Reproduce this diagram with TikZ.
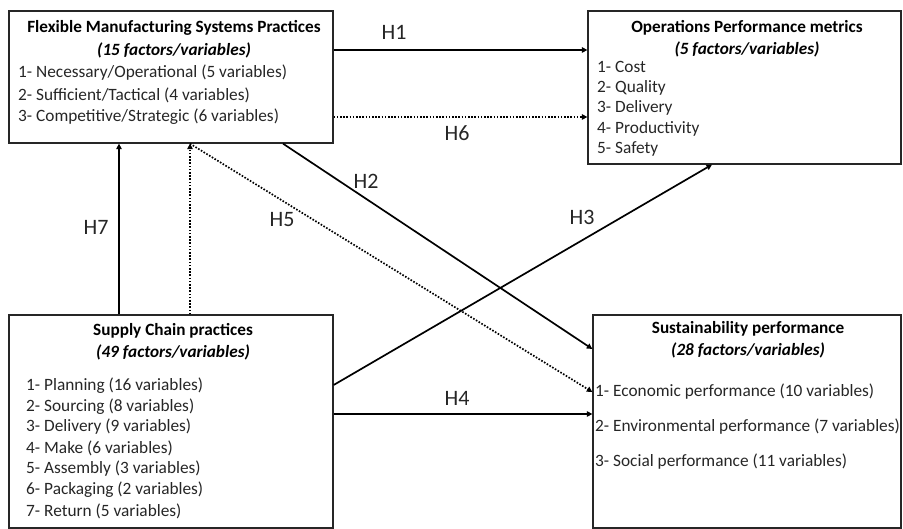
\documentclass[tikz,border=0pt]{standalone}
\usepackage{fontspec}
\setmainfont{Carlito}
\usetikzlibrary{arrows.meta}
\definecolor{txt}{HTML}{262626}
\tikzset{
  box/.style={draw=black!85, line width=1.3pt, rectangle, inner sep=0pt},
  ttl/.style={font=\fontsize{17.2}{20}\selectfont\bfseries, text=black, inner sep=0pt},
  sub/.style={font=\fontsize{17.2}{20}\selectfont\bfseries\itshape, text=black, inner sep=0pt},
  itm/.style={font=\fontsize{17.3}{20}\selectfont, text=txt, anchor=west, inner sep=0pt},
  hlab/.style={font=\fontsize{22}{24}\selectfont, text=txt, inner sep=0pt},
  arr/.style={line width=1.7pt, -{Triangle[length=5.5pt,width=5.5pt]}},
  darr/.style={line width=1.7pt, dash pattern=on 1.6pt off 1.6pt, -{Triangle[length=5.5pt,width=5.5pt]}}
}
\begin{document}
\begin{tikzpicture}[x=1pt,y=-1pt]
\useasboundingbox (0,0) rectangle (903,529);
% boxes
\node[box, minimum width=324pt, minimum height=132pt] (fms) at (171,77) {};
\node[box, minimum width=313pt, minimum height=153pt] (ops) at (744.5,87.5) {};
\node[box, minimum width=324pt, minimum height=213pt] (sc) at (171,421.5) {};
\node[box, minimum width=308pt, minimum height=213pt] (sus) at (747,421.5) {};
% FMS text
\node[ttl] (fmst) at (174,28) {Flexible Manufacturing Systems Practices};
\node[sub] (fmss) at (174,50) {(15 factors/variables)};
\node[itm] (fms1) at (18,73) {1- Necessary/Operational (5 variables)};
\node[itm] (fms2) at (18,95) {2- Sufficient/Tactical (4 variables)};
\node[itm] (fms3) at (18,117) {3- Competitive/Strategic (6 variables)};
% Ops text
\node[ttl] (opst) at (747,28) {Operations Performance metrics};
\node[sub] (opss) at (747,49) {(5 factors/variables)};
\node[itm] (ops1) at (597,67) {1- Cost};
\node[itm] (ops2) at (597,88) {2- Quality};
\node[itm] (ops3) at (597,108) {3- Delivery};
\node[itm] (ops4) at (597,129) {4- Productivity};
\node[itm] (ops5) at (597,149) {5- Safety};
% SC text
\node[ttl] (sct) at (173,331) {Supply Chain practices};
\node[sub] (scs) at (173,352) {(49 factors/variables)};
\node[itm] (sc1) at (26,386) {1- Planning (16 variables)};
\node[itm] (sc2) at (26,407) {2- Sourcing (8 variables)};
\node[itm] (sc3) at (26,427) {3- Delivery (9 variables)};
\node[itm] (sc4) at (26,448) {4- Make (6 variables)};
\node[itm] (sc5) at (26,469) {5- Assembly (3 variables)};
\node[itm] (sc6) at (26,490) {6- Packaging (2 variables)};
\node[itm] (sc7) at (26,511) {7- Return (5 variables)};
% Sustainability text
\node[ttl] (sust) at (748,329) {Sustainability performance};
\node[sub] (suss) at (748,350) {(28 factors/variables)};
\node[itm] (sus1) at (595,392) {1- Economic performance (10 variables)};
\node[itm] (sus2) at (595,427) {2- Environmental performance (7 variables)};
\node[itm] (sus3) at (595,462) {3- Social performance (11 variables)};
% arrows
\draw[arr] (fms.east |- 0,50) -- (ops.west |- 0,50);
\draw[darr] (fms.east |- 0,117) -- (ops.west |- 0,117);
\draw[arr] (fms.south -| 283,0) -- (sus.west |- 0,349);
\draw[darr] (fms.south -| 190,0) -- (sus.west |- 0,392);
\draw[arr] (sc.east |- 0,385) -- (ops.south -| 712,0);
\draw[arr] (sc.east |- 0,414) -- (sus.west |- 0,414);
\draw[arr] (sc.north -| 119,0) -- (fms.south -| 119,0);
\draw[darr] (sc.north -| 190,0) -- (fms.south -| 190,0);
% labels
\node[hlab] (h1) at (394,32) {H1};
\node[hlab] (h6) at (457,133) {H6};
\node[hlab] (h2) at (366,181) {H2};
\node[hlab] (h5) at (282,220) {H5};
\node[hlab] (h3) at (582,217) {H3};
\node[hlab] (h7) at (96,227) {H7};
\node[hlab] (h4) at (457,398) {H4};
\end{tikzpicture}
\end{document}
